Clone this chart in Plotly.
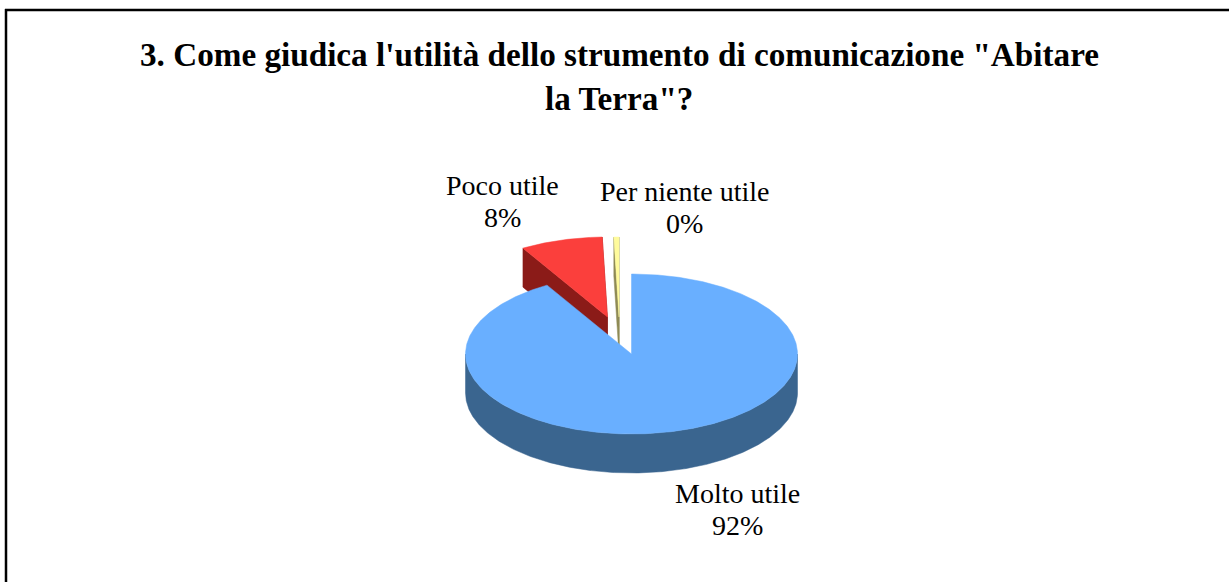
import math
import plotly.graph_objects as go

categories = ["Molto utile", "Poco utile", "Per niente utile"]
shares = [91.5, 8.0, 0.5]
pct_labels = ["92%", "8%", "0%"]
title_lines = ["3. Come giudica l'utilità dello strumento di comunicazione \"Abitare", "la Terra\"?"]

W, H = 1229, 582
CX, CY, RX, RY, DEPTH = 631.5, 354.0, 166.0, 80.0, 0.4875
FONT = "Liberation Serif, Times New Roman, serif"

top_colors = ["#69AFFF", "#FB3F3C", "#FFFB9C"]
side_colors = ["#3A658F", "#8B1B18", "#8E8A55"]
explode = [(0.0, 0.0), (-0.145, 0.4625), (-0.075, 0.4625)]
label_pos = [(737.5, 509.5), (502, 201), (684.5, 208)]


def arc(a0, a1, ox, oy, dz=0.0):
    n = max(2, int(abs(a1 - a0) * 2))
    pts = [a0 + (a1 - a0) * i / n for i in range(n + 1)]
    return ([ox + math.sin(math.radians(a)) for a in pts],
            [oy + math.cos(math.radians(a)) - dz for a in pts])


fig = go.Figure()


def poly(xs, ys, color):
    fig.add_trace(go.Scatter(
        x=xs + xs[:1], y=ys + ys[:1], mode="lines", fill="toself", fillcolor=color,
        line=dict(color=color, width=0.5), hoverinfo="skip", showlegend=False))


spans = []
start = 0.0
total = sum(shares)
for v in shares:
    end = start + 360.0 * v / total
    spans.append((start, end))
    start = end

# exploded slices sit behind the main one, so draw them first
for i in [2, 1, 0]:
    a0, a1 = spans[i]
    ox, oy = explode[i]
    top, side = top_colors[i], side_colors[i]
    if i > 0:
        # radial cut faces
        for a in (a1, a0):
            ex = ox + math.sin(math.radians(a))
            ey = oy + math.cos(math.radians(a))
            poly([ox, ex, ex, ox], [oy, ey, ey - DEPTH, oy - DEPTH], side)
    else:
        # front rim of the main slice
        fa0, fa1 = max(a0, 90.0), min(a1, 270.0)
        xu, yu = arc(fa0, fa1, ox, oy)
        xl, yl = arc(fa1, fa0, ox, oy, DEPTH)
        poly(xu + xl, yu + yl, side)
    xa, ya = arc(a0, a1, ox, oy)
    poly([ox] + xa, [oy] + ya, top)

annotations = []
for name, pct, (px, py) in zip(categories, pct_labels, label_pos):
    for line, dy in ((name, -16), (pct, 16)):
        annotations.append(dict(
            x=px / W, y=1 - (py + dy) / H, xref="paper", yref="paper", showarrow=False,
            text=line, align="center", xanchor="center", yanchor="middle",
            font=dict(family=FONT, size=28, color="#000000")))
for line, py in zip(title_lines, (54, 98)):
    annotations.append(dict(
        x=619.5 / W, y=1 - py / H, xref="paper", yref="paper", showarrow=False,
        text=f"<b>{line}</b>", xanchor="center", yanchor="middle",
        font=dict(family=FONT, size=33.2, color="#000000")))

fig.update_layout(
    width=W, height=H, autosize=False,
    margin=dict(l=0, r=0, t=0, b=0),
    paper_bgcolor="#FFFFFF", plot_bgcolor="#FFFFFF",
    showlegend=False,
    xaxis=dict(visible=False, fixedrange=True, range=[(0 - CX) / RX, (W - CX) / RX]),
    yaxis=dict(visible=False, fixedrange=True, range=[(CY - H) / RY, CY / RY]),
    annotations=annotations,
    shapes=[dict(type="line", xref="paper", yref="paper", x0=6 / W, x1=6 / W, y0=0, y1=1 - 9 / H,
                 line=dict(color="#000000", width=2.5)),
            dict(type="line", xref="paper", yref="paper", x0=5 / W, x1=1, y0=1 - 10 / H, y1=1 - 10 / H,
                 line=dict(color="#000000", width=2.5))],
)

fig.write_html("out.html", config={"displayModeBar": False},
               post_script="document.body.style.margin='0';document.body.style.overflow='hidden';")
